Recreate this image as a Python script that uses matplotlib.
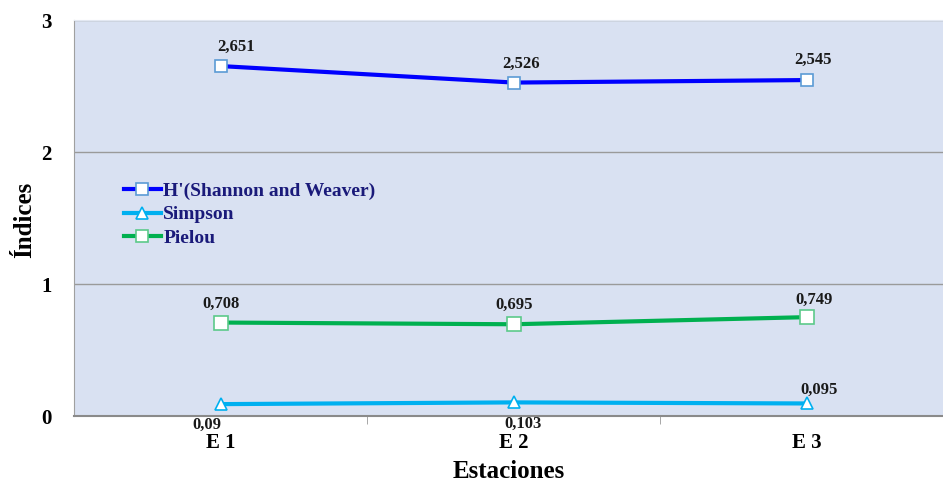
import matplotlib
matplotlib.use("Agg")
import matplotlib.pyplot as plt
from matplotlib.ticker import FixedLocator

stations = ["E 1", "E 2", "E 3"]
shannon = [2.651, 2.526, 2.545]
simpson = [0.090, 0.103, 0.095]
pielou = [0.708, 0.695, 0.749]
shannon_lbl = ["2,651", "2,526", "2,545"]
simpson_lbl = ["0,09", "0,103", "0,095"]
pielou_lbl = ["0,708", "0,695", "0,749"]
yticks = [0, 1, 2, 3]

plt.rcParams['font.family'] = ['Liberation Serif', 'DejaVu Serif']

fig = plt.figure(figsize=(9.43, 4.87), dpi=100)
ax = fig.add_axes([74/943, 1-416/487, (943-74)/943, (416-20)/487])
ax.set_facecolor("#D9E1F2")

x = list(range(len(stations)))
ax.plot(x, shannon, color="#0000FF", lw=3, marker="s", ms=9, mfc="white",
        mec="#5B9BD5", mew=1.2, label="H'(Shannon and Weaver)", zorder=3)
ax.plot(x, simpson, color="#00B0F0", lw=3, marker="^", ms=9, mfc="white",
        mec="#00B0F0", mew=1.2, label="Simpson", zorder=3)
ax.plot(x, pielou, color="#00B050", lw=3, marker="s", ms=10, mfc="white",
        mec="#5CC98A", mew=1.2, label="Pielou", zorder=3)

tk = dict(fontsize=12, fontweight="bold", color="#1a1a1a", ha="center")
sh_off = [(11, 8), (5, 8), (4, 9)]
for i, (v, s) in enumerate(zip(shannon, shannon_lbl)):
    ax.annotate(s, (i, v), xytext=sh_off[i], textcoords="offset points", va="bottom", **tk)
pi_off = [(0, 8), (0, 8), (5, 7)]
for i, (v, s) in enumerate(zip(pielou, pielou_lbl)):
    ax.annotate(s, (i, v), xytext=pi_off[i], textcoords="offset points", va="bottom", **tk)
simp_off = [(-10, -9), (7, -10), (9, 4)]
simp_va = ["top", "top", "bottom"]
for i, (v, s) in enumerate(zip(simpson, simpson_lbl)):
    ax.annotate(s, (i, v), xytext=simp_off[i], textcoords="offset points", va=simp_va[i], **tk)

ax.set_xlim(-0.5, 2.464)
ax.set_ylim(0, 3)
ax.set_yticks(yticks)
ax.set_yticklabels([str(t) for t in yticks], fontsize=15, fontweight="bold")
ax.set_xticks(x)
ax.set_xticklabels(stations, fontsize=15, fontweight="bold")
ax.xaxis.set_minor_locator(FixedLocator([0.5, 1.5]))
ax.tick_params(axis="x", which="major", length=0, pad=12)
ax.tick_params(axis="x", which="minor", length=6, color="#999999", direction="out")
ax.tick_params(axis="y", length=0, pad=16)
ax.grid(axis="y", color="#9a9a9a", lw=1)
ax.set_axisbelow(True)
ax.spines["right"].set_visible(False)
ax.spines["top"].set_color("#E3E8F2")
ax.spines["left"].set_color("#a0a0a0")
ax.spines["bottom"].set_color("#8a8a8a")
ax.spines["bottom"].set_linewidth(1.5)

ax.set_xlabel("Estaciones", fontsize=18, fontweight="bold")
ax.xaxis.set_label_coords(0.5, -(472-416)/396)
ax.set_ylabel("Índices", fontsize=18, fontweight="bold")
ax.yaxis.set_label_coords(-(74-25)/869, 0.495)
ax.xaxis.label.set_va("center")
ax.yaxis.label.set_va("center")

leg = ax.legend(loc="upper left", bbox_to_anchor=(0.057, 0.59), frameon=False,
                prop=dict(size=14, weight="bold"), handlelength=1.95,
                handletextpad=0.1, labelspacing=0.3, borderaxespad=0, borderpad=0)
for t in leg.get_texts():
    t.set_color("#1A1A7A")
for h in leg.get_lines():
    h.set_markersize(8)

fig.savefig("out.png", dpi=100)
